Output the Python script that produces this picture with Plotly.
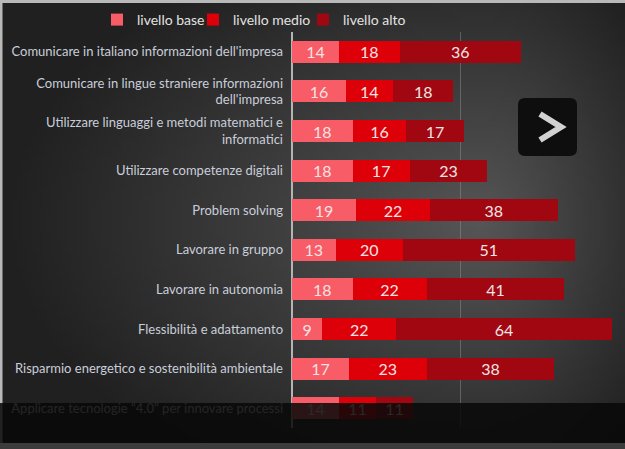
import base64
import math
import struct
import zlib

import plotly.graph_objects as go

categories = [
    "Comunicare in italiano informazioni dell'impresa",
    "Comunicare in lingue straniere informazioni<br>dell'impresa",
    "Utilizzare linguaggi e metodi matematici e<br>informatici",
    "Utilizzare competenze digitali",
    "Problem solving",
    "Lavorare in gruppo",
    "Lavorare in autonomia",
    "Flessibilità e adattamento",
    "Risparmio energetico e sostenibilità ambientale",
    "Applicare tecnologie \"4.0\" per innovare processi",
]
livello_base = [14, 16, 18, 18, 19, 13, 18, 9, 17, 14]
livello_medio = [18, 14, 16, 17, 22, 20, 22, 22, 23, 11]
livello_alto = [36, 18, 17, 23, 38, 51, 41, 64, 38, 11]

W, H = 625, 449
L, R, T, B = 292, 0, 32, 21
PW, PH = W - L - R, H - T - B


def px(x):
    return (x - L) / PW


def py(y):
    return (H - B - y) / PH


def gradient_png(w, h, step):
    # radial-ish dark grey backdrop, as a tiny grayscale png
    rows = []
    for j in range(h):
        row = bytearray([0])
        for i in range(w):
            x, y = i * step, j * step
            dx = (x - 480) / (480 if x < 480 else 210)
            dy = (y - 220) / 300
            d = min(math.sqrt(dx * dx + dy * dy), 1.0)
            row.append(int(86 - 54 * d))
        rows.append(bytes(row))
    raw = b"".join(rows)

    def chunk(tag, data):
        c = struct.pack(">I", len(data)) + tag + data
        return c + struct.pack(">I", zlib.crc32(tag + data) & 0xFFFFFFFF)

    png = b"\x89PNG\r\n\x1a\n"
    png += chunk(b"IHDR", struct.pack(">IIBBBBB", w, h, 8, 0, 0, 0, 0))
    png += chunk(b"IDAT", zlib.compress(raw, 9))
    png += chunk(b"IEND", b"")
    return "data:image/png;base64," + base64.b64encode(png).decode()


fig = go.Figure()
series = [
    ("livello base", livello_base, "#F85C67", "legend", 97),
    ("livello medio", livello_medio, "#DE0008", "legend2", 193),
    ("livello alto", livello_alto, "#A00710", "legend3", 303),
]
for name, vals, col, leg, _ in series:
    fig.add_trace(go.Bar(
        y=categories, x=vals, name=name, orientation="h", legend=leg,
        marker=dict(color=col, line=dict(width=0)),
        text=vals, textposition="inside", insidetextanchor="middle",
        textangle=0, constraintext="none",
        textfont=dict(family="Lato", size=16, color="#F2E4E4"),
        hoverinfo="x+name",
    ))

# one legend per series so each entry sits where it does in the original
for _, _, _, leg, lx in series:
    fig.update_layout({leg: dict(
        orientation="h", xref="container", yref="container",
        x=lx / W, xanchor="left", y=1 - 20 / H, yanchor="middle",
        font=dict(size=14, color="#E2E2E2"), bgcolor="rgba(0,0,0,0)",
        borderwidth=0, itemwidth=30,
    )})

fig.update_layout(
    width=W, height=H,
    margin=dict(l=L, r=R, t=T, b=B, autoexpand=False),
    barmode="stack", bargap=0.44,
    paper_bgcolor="#2a2a2a", plot_bgcolor="rgba(0,0,0,0)",
    font=dict(family="Lato", size=13, color="#C9CEDA"),
    uniformtext=dict(minsize=16, mode="show"),
    showlegend=True,
    xaxis=dict(range=[0, 99], dtick=50, showgrid=True,
               gridcolor="rgba(150,150,150,0.45)", gridwidth=1,
               zeroline=True, zerolinecolor="#B4B4B4", zerolinewidth=1.5,
               showticklabels=False, fixedrange=True),
    yaxis=dict(autorange="reversed", showgrid=False, ticks="",
               ticklabelstandoff=8, fixedrange=True),
)

fig.add_layout_image(dict(
    source=gradient_png(125, 90, 5), xref="paper", yref="paper",
    x=px(0), y=py(0), sizex=W / PW, sizey=H / PH,
    sizing="stretch", layer="below", xanchor="left", yanchor="top",
))

shapes = [
    # light frame top and left
    dict(type="rect", x0=px(0), x1=px(W), y0=py(0), y1=py(3),
         fillcolor="#B9B9B9", line_width=0),
    dict(type="rect", x0=px(0), x1=px(2.5), y0=py(0), y1=py(443),
         fillcolor="#B9B9B9", line_width=0),
    # bottom overlay band
    dict(type="rect", x0=px(0), x1=px(W), y0=py(403), y1=py(443),
         fillcolor="rgba(8,8,8,0.86)", line_width=0),
    dict(type="rect", x0=px(0), x1=px(W), y0=py(443), y1=py(H),
         fillcolor="#3C3C3C", line_width=0),
]
# next-arrow button
bx0, bx1, by0, by1, rr = 518, 577, 98, 156, 7
path = (f"M{px(bx0 + rr)},{py(by0)} L{px(bx1 - rr)},{py(by0)} "
        f"Q{px(bx1)},{py(by0)} {px(bx1)},{py(by0 + rr)} "
        f"L{px(bx1)},{py(by1 - rr)} Q{px(bx1)},{py(by1)} {px(bx1 - rr)},{py(by1)} "
        f"L{px(bx0 + rr)},{py(by1)} Q{px(bx0)},{py(by1)} {px(bx0)},{py(by1 - rr)} "
        f"L{px(bx0)},{py(by0 + rr)} Q{px(bx0)},{py(by0)} {px(bx0 + rr)},{py(by0)} Z")
shapes.append(dict(type="path", path=path, fillcolor="#0E0E0E", line_width=0))
shapes.append(dict(
    type="path",
    path=f"M{px(540)},{py(114)} L{px(561)},{py(127)} L{px(540)},{py(140)}",
    line=dict(color="#D2D2D2", width=6), fillcolor="rgba(0,0,0,0)"))

for s in shapes:
    s.update(xref="paper", yref="paper", layer="above")
    fig.add_shape(s)

# page has a default 8px body margin; drop it so the figure fills the window
fig.write_html("out.html", config={"displayModeBar": False},
               post_script="document.body.style.margin='0';")
